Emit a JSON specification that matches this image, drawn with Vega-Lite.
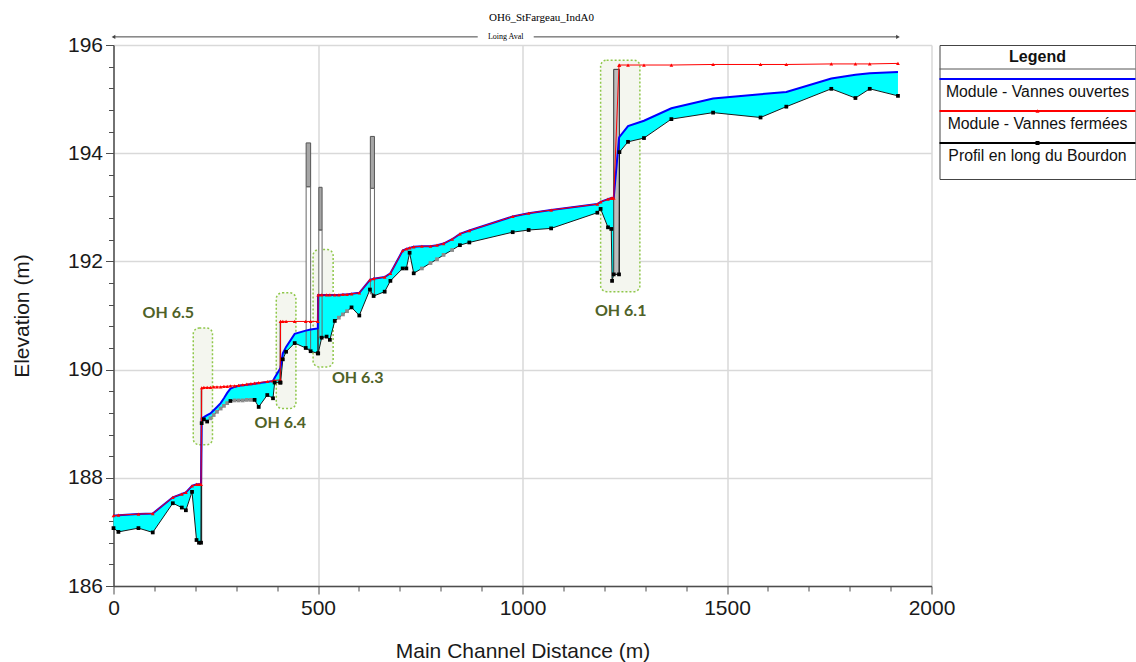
{
  "$schema": "https://vega.github.io/schema/vega-lite/v6.json",
  "padding": {"left": 11.5, "top": 12, "right": 0, "bottom": 0},
  "bounds": "flush",
  "spacing": 8,
  "background": "white",
  "config": {
    "font": "Liberation Sans",
    "axis": {"labelFont": "Liberation Sans", "labelFontSize": 21, "labelColor": "#1a1a1a", "titleFont": "Liberation Sans", "titleFontSize": 21, "titleFontWeight": "normal", "titleColor": "#1a1a1a", "domainColor": "#4d4d4d", "domainWidth": 1.5, "tickColor": "#4d4d4d", "tickWidth": 1, "gridColor": "#d9d9d9", "gridWidth": 1.5, "labelPadding": 3, "labelOverlap": false},
    "axisX": {"titlePadding": 22.5},
    "axisY": {"titlePadding": 34.5},
    "view": {"stroke": null}
  },
  "datasets": {
    "sections": [
      {"d": 0, "bed": 187.07, "o": 187.30, "c": 187.30, "t": "x"},
      {"d": 12, "bed": 187.00, "o": 187.31, "c": 187.31, "t": "x"},
      {"d": 61, "bed": 187.07, "o": 187.33, "c": 187.33, "t": "x"},
      {"d": 96, "bed": 186.99, "o": 187.34, "c": 187.34, "t": "x"},
      {"d": 145, "bed": 187.53, "o": 187.64, "c": 187.64, "t": "x"},
      {"d": 167, "bed": 187.45, "o": 187.70, "c": 187.70, "t": "x"},
      {"d": 177, "bed": 187.40, "o": 187.73, "c": 187.73, "t": "x"},
      {"d": 192, "bed": 187.74, "o": 187.85, "c": 187.85, "t": "x"},
      {"d": 203, "bed": 186.85, "o": 187.88, "c": 187.88, "t": "x"},
      {"d": 209, "bed": 186.80, "o": 187.88, "c": 187.88, "t": "x"},
      {"d": 214, "bed": 186.80, "o": 187.88, "c": 187.88, "t": "x"},
      {"d": 215.6, "bed": 189.01, "o": 189.10, "c": 189.66, "t": "x"},
      {"d": 221, "bed": 189.08, "o": 189.12, "c": 189.67, "t": "x"},
      {"d": 229, "bed": 189.04, "o": 189.16, "c": 189.67, "t": "x"},
      {"d": 237, "bed": 189.10, "o": 189.19, "c": 189.67, "t": "i"},
      {"d": 245, "bed": 189.16, "o": 189.25, "c": 189.68, "t": "i"},
      {"d": 253, "bed": 189.22, "o": 189.31, "c": 189.68, "t": "i"},
      {"d": 262, "bed": 189.28, "o": 189.38, "c": 189.68, "t": "i"},
      {"d": 270, "bed": 189.33, "o": 189.47, "c": 189.69, "t": "i"},
      {"d": 278, "bed": 189.38, "o": 189.57, "c": 189.69, "t": "i"},
      {"d": 286, "bed": 189.42, "o": 189.65, "c": 189.70, "t": "x"},
      {"d": 296, "bed": 189.43, "o": 189.68, "c": 189.70, "t": "i"},
      {"d": 306, "bed": 189.43, "o": 189.70, "c": 189.71, "t": "i"},
      {"d": 316, "bed": 189.43, "o": 189.71, "c": 189.72, "t": "i"},
      {"d": 326, "bed": 189.44, "o": 189.72, "c": 189.73, "t": "i"},
      {"d": 336, "bed": 189.44, "o": 189.73, "c": 189.74, "t": "i"},
      {"d": 345, "bed": 189.44, "o": 189.74, "c": 189.75, "t": "x"},
      {"d": 355, "bed": 189.31, "o": 189.75, "c": 189.76, "t": "x"},
      {"d": 376, "bed": 189.53, "o": 189.77, "c": 189.78, "t": "x"},
      {"d": 390, "bed": 189.47, "o": 189.79, "c": 189.79, "t": "x"},
      {"d": 394, "bed": 189.76, "o": 189.85, "c": 189.80, "t": "x"},
      {"d": 407.5, "bed": 189.76, "o": 190.02, "c": 189.81, "t": "x"},
      {"d": 408.5, "bed": 189.76, "o": 190.04, "c": 190.89, "t": "x"},
      {"d": 414, "bed": 190.19, "o": 190.30, "c": 190.89, "t": "x"},
      {"d": 422, "bed": 190.33, "o": 190.42, "c": 190.89, "t": "x"},
      {"d": 443, "bed": 190.49, "o": 190.66, "c": 190.89, "t": "x"},
      {"d": 470, "bed": 190.40, "o": 190.72, "c": 190.89, "t": "x"},
      {"d": 482, "bed": 190.34, "o": 190.74, "c": 190.89, "t": "x"},
      {"d": 499.5, "bed": 190.30, "o": 190.76, "c": 190.89, "t": "x"},
      {"d": 500.5, "bed": 190.30, "o": 191.38, "c": 191.38, "t": "x"},
      {"d": 509, "bed": 190.59, "o": 191.38, "c": 191.38, "t": "x"},
      {"d": 521, "bed": 190.61, "o": 191.38, "c": 191.38, "t": "x"},
      {"d": 529, "bed": 190.55, "o": 191.38, "c": 191.38, "t": "x"},
      {"d": 541, "bed": 190.90, "o": 191.38, "c": 191.38, "t": "x"},
      {"d": 551, "bed": 190.96, "o": 191.38, "c": 191.38, "t": "i"},
      {"d": 561, "bed": 191.02, "o": 191.39, "c": 191.39, "t": "i"},
      {"d": 571, "bed": 191.08, "o": 191.39, "c": 191.39, "t": "i"},
      {"d": 582, "bed": 191.15, "o": 191.40, "c": 191.40, "t": "x"},
      {"d": 601, "bed": 191.00, "o": 191.42, "c": 191.42, "t": "x"},
      {"d": 627, "bed": 191.48, "o": 191.66, "c": 191.66, "t": "x"},
      {"d": 636, "bed": 191.36, "o": 191.68, "c": 191.68, "t": "x"},
      {"d": 663, "bed": 191.44, "o": 191.71, "c": 191.71, "t": "x"},
      {"d": 677, "bed": 191.64, "o": 191.78, "c": 191.78, "t": "x"},
      {"d": 707, "bed": 191.87, "o": 192.20, "c": 192.20, "t": "x"},
      {"d": 716, "bed": 191.87, "o": 192.23, "c": 192.23, "t": "x"},
      {"d": 724, "bed": 192.16, "o": 192.25, "c": 192.25, "t": "x"},
      {"d": 734, "bed": 191.78, "o": 192.27, "c": 192.27, "t": "x"},
      {"d": 754, "bed": 191.87, "o": 192.28, "c": 192.28, "t": "i"},
      {"d": 775, "bed": 191.97, "o": 192.28, "c": 192.28, "t": "i"},
      {"d": 791, "bed": 192.04, "o": 192.30, "c": 192.30, "t": "i"},
      {"d": 807, "bed": 192.12, "o": 192.33, "c": 192.33, "t": "i"},
      {"d": 828, "bed": 192.21, "o": 192.41, "c": 192.41, "t": "i"},
      {"d": 847, "bed": 192.30, "o": 192.51, "c": 192.51, "t": "x"},
      {"d": 870, "bed": 192.35, "o": 192.57, "c": 192.57, "t": "x"},
      {"d": 976, "bed": 192.54, "o": 192.83, "c": 192.83, "t": "x"},
      {"d": 1015, "bed": 192.58, "o": 192.89, "c": 192.89, "t": "x"},
      {"d": 1070, "bed": 192.61, "o": 192.95, "c": 192.95, "t": "x"},
      {"d": 1183, "bed": 192.90, "o": 193.06, "c": 193.06, "t": "x"},
      {"d": 1191, "bed": 192.97, "o": 193.10, "c": 193.10, "t": "x"},
      {"d": 1209, "bed": 192.63, "o": 193.15, "c": 193.15, "t": "x"},
      {"d": 1217, "bed": 192.60, "o": 193.17, "c": 193.17, "t": "x"},
      {"d": 1219, "bed": 191.64, "o": 193.17, "c": 193.17, "t": "x"},
      {"d": 1223, "bed": 191.76, "o": 193.17, "c": 193.17, "t": "x"},
      {"d": 1236, "bed": 191.76, "o": 194.28, "c": 195.63, "t": "x"},
      {"d": 1237, "bed": 194.02, "o": 194.30, "c": 195.63, "t": "x"},
      {"d": 1258, "bed": 194.21, "o": 194.50, "c": 195.63, "t": "x"},
      {"d": 1297, "bed": 194.28, "o": 194.60, "c": 195.63, "t": "x"},
      {"d": 1364, "bed": 194.63, "o": 194.83, "c": 195.63, "t": "x"},
      {"d": 1466, "bed": 194.75, "o": 195.01, "c": 195.64, "t": "x"},
      {"d": 1582, "bed": 194.66, "o": 195.09, "c": 195.64, "t": "x"},
      {"d": 1645, "bed": 194.86, "o": 195.13, "c": 195.64, "t": "x"},
      {"d": 1755, "bed": 195.19, "o": 195.38, "c": 195.65, "t": "x"},
      {"d": 1814, "bed": 195.02, "o": 195.45, "c": 195.65, "t": "x"},
      {"d": 1849, "bed": 195.19, "o": 195.48, "c": 195.65, "t": "x"},
      {"d": 1918, "bed": 195.06, "o": 195.50, "c": 195.66, "t": "x"}
    ],
    "structures": [
      {"name": "OH 6.5", "d0": 214.4, "d1": 215.6, "lo": 186.80, "hi": 189.62},
      {"name": "OH 6.4", "d0": 407.5, "d1": 408.5, "lo": 189.76, "hi": 190.90},
      {"name": "OH 6.3", "d0": 499.5, "d1": 500.5, "lo": 190.30, "hi": 191.38},
      {"name": "OH 6.1", "d0": 1223, "d1": 1237, "lo": 191.76, "hi": 195.55}
    ],
    "piers": [
      {"d0": 471, "d1": 482, "top": 194.19, "mid": 193.38, "bot": 190.38},
      {"d0": 502, "d1": 510, "top": 193.37, "mid": 192.58, "bot": 190.60},
      {"d0": 628, "d1": 638, "top": 194.31, "mid": 193.35, "bot": 191.40}
    ],
    "boxes": [
      {"name": "OH 6.5", "d0": 195, "d1": 242, "lo": 188.61, "hi": 190.77, "lx": 134, "ly": 191.05},
      {"name": "OH 6.4", "d0": 398, "d1": 446, "lo": 189.28, "hi": 191.42, "lx": 408, "ly": 189.01},
      {"name": "OH 6.3", "d0": 488, "d1": 537, "lo": 190.05, "hi": 192.22, "lx": 597, "ly": 189.84},
      {"name": "OH 6.1", "d0": 1191, "d1": 1287, "lo": 191.44, "hi": 195.72, "lx": 1240, "ly": 191.08}
    ],
    "reach": [{"reach": "Loing Aval", "start": 0, "end": 1918}],
    "legend": [
      {"key": "Legend"},
      {"key": "Module - Vannes ouvertes"},
      {"key": "Module - Vannes fermées"},
      {"key": "Profil en long du Bourdon"}
    ]
  },
  "hconcat": [
    {
      "width": 818,
      "height": 541,
      "title": {"text": "OH6_StFargeau_IndA0", "font": "Liberation Sans Narrow", "fontSize": 11, "fontWeight": "normal", "color": "#000", "anchor": "middle", "frame": "group", "offset": 9.5, "dx": 19},
      "resolve": {"axis": {"x": "independent", "y": "independent"}},
      "layer": [
        {
          "data": {"name": "boxes"},
          "mark": {"type": "rect", "fill": "#f4f6ef", "stroke": "#8fc74a", "strokeWidth": 1.5, "strokeDash": [2, 2], "cornerRadius": 6},
          "encoding": {
            "x": {"field": "d0", "type": "quantitative", "scale": {"domain": [0, 2000], "nice": false, "zero": false}, "title": "Main Channel Distance (m)",
              "axis": {"orient": "bottom", "values": [0, 500, 1000, 1500, 2000], "format": "d", "labelOverlap": false, "labelFlush": false, "grid": true, "tickSize": 8}},
            "x2": {"field": "d1"},
            "y": {"field": "hi", "type": "quantitative", "scale": {"domain": [186, 196], "nice": false, "zero": false}, "title": "Elevation (m)",
              "axis": {"orient": "left", "values": [186, 188, 190, 192, 194, 196], "format": "d", "labelOverlap": false, "labelFlush": false, "grid": true, "tickSize": 8}},
            "y2": {"field": "lo"}
          }
        },
        {
          "data": {"name": "piers"},
          "mark": {"type": "rect", "fill": "white", "strokeWidth": 0},
          "encoding": {
            "x": {"field": "d0", "type": "quantitative", "scale": {"domain": [0, 2000], "nice": false, "zero": false}, "title": null,
              "axis": {"orient": "bottom", "values": [100, 200, 300, 400, 600, 700, 800, 900, 1100, 1200, 1300, 1400, 1600, 1700, 1800, 1900], "labels": false, "grid": false, "domain": false, "tickSize": 5}},
            "x2": {"field": "d1"},
            "y": {"field": "mid", "type": "quantitative", "scale": {"domain": [186, 196], "nice": false, "zero": false}, "title": null,
              "axis": {"orient": "left", "values": [186.4, 186.8, 187.2, 187.6, 188.4, 188.8, 189.2, 189.6, 190.4, 190.8, 191.2, 191.6, 192.4, 192.8, 193.2, 193.6, 194.4, 194.8, 195.2, 195.6], "labels": false, "grid": false, "domain": false, "tickSize": 5}},
            "y2": {"field": "bot"}
          }
        },
        {
          "data": {"name": "sections"},
          "mark": {"type": "area", "color": "#00ffff", "opacity": 1, "interpolate": "linear"},
          "encoding": {
            "x": {"field": "d", "type": "quantitative", "scale": {"domain": [0, 2000], "nice": false, "zero": false}, "axis": null},
            "y": {"field": "o", "type": "quantitative", "scale": {"domain": [186, 196], "nice": false, "zero": false}, "axis": null},
            "y2": {"field": "bed"}
          }
        },
        {
          "data": {"name": "structures"},
          "mark": {"type": "rect", "fill": "#bdbdbd", "stroke": "#333", "strokeWidth": 1},
          "encoding": {
            "x": {"field": "d0", "type": "quantitative", "scale": {"domain": [0, 2000], "nice": false, "zero": false}, "axis": null},
            "x2": {"field": "d1"},
            "y": {"field": "hi", "type": "quantitative", "scale": {"domain": [186, 196], "nice": false, "zero": false}, "axis": null},
            "y2": {"field": "lo"}
          }
        },
        {
          "data": {"name": "piers"},
          "mark": {"type": "rect", "fill": "#a6a6a6", "stroke": "#555", "strokeWidth": 1},
          "encoding": {
            "x": {"field": "d0", "type": "quantitative", "scale": {"domain": [0, 2000], "nice": false, "zero": false}, "axis": null},
            "x2": {"field": "d1"},
            "y": {"field": "top", "type": "quantitative", "scale": {"domain": [186, 196], "nice": false, "zero": false}, "axis": null},
            "y2": {"field": "mid"}
          }
        },
        {
          "data": {"name": "piers"},
          "mark": {"type": "rect", "filled": false, "stroke": "#666", "strokeWidth": 1},
          "encoding": {
            "x": {"field": "d0", "type": "quantitative", "scale": {"domain": [0, 2000], "nice": false, "zero": false}, "axis": null},
            "x2": {"field": "d1"},
            "y": {"field": "mid", "type": "quantitative", "scale": {"domain": [186, 196], "nice": false, "zero": false}, "axis": null},
            "y2": {"field": "bot"}
          }
        },
        {
          "data": {"name": "sections"},
          "mark": {"type": "line", "color": "#1a1a1a", "strokeWidth": 1},
          "encoding": {
            "x": {"field": "d", "type": "quantitative", "scale": {"domain": [0, 2000], "nice": false, "zero": false}, "axis": null},
            "y": {"field": "bed", "type": "quantitative", "scale": {"domain": [186, 196], "nice": false, "zero": false}, "axis": null}
          }
        },
        {
          "data": {"name": "sections"},
          "mark": {"type": "line", "color": "#0000ff", "strokeWidth": 2},
          "encoding": {
            "x": {"field": "d", "type": "quantitative", "scale": {"domain": [0, 2000], "nice": false, "zero": false}, "axis": null},
            "y": {"field": "o", "type": "quantitative", "scale": {"domain": [186, 196], "nice": false, "zero": false}, "axis": null}
          }
        },
        {
          "data": {"name": "sections"},
          "mark": {"type": "line", "color": "#ff0000", "strokeWidth": 1},
          "encoding": {
            "x": {"field": "d", "type": "quantitative", "scale": {"domain": [0, 2000], "nice": false, "zero": false}, "axis": null},
            "y": {"field": "c", "type": "quantitative", "scale": {"domain": [186, 196], "nice": false, "zero": false}, "axis": null}
          }
        },
        {
          "data": {"name": "sections"},
          "mark": {"type": "point", "shape": "triangle-up", "filled": true, "size": 14, "color": "#ff0000", "opacity": 1},
          "encoding": {
            "x": {"field": "d", "type": "quantitative", "scale": {"domain": [0, 2000], "nice": false, "zero": false}, "axis": null},
            "y": {"field": "c", "type": "quantitative", "scale": {"domain": [186, 196], "nice": false, "zero": false}, "axis": null}
          }
        },
        {
          "data": {"name": "sections"},
          "mark": {"type": "point", "shape": "square", "filled": true, "size": 14, "opacity": 1},
          "encoding": {
            "x": {"field": "d", "type": "quantitative", "scale": {"domain": [0, 2000], "nice": false, "zero": false}, "axis": null},
            "y": {"field": "bed", "type": "quantitative", "scale": {"domain": [186, 196], "nice": false, "zero": false}, "axis": null},
            "color": {"condition": {"test": "datum.t === 'i'", "value": "#8c8c8c"}, "value": "#000000"}
          }
        },
        {
          "data": {"name": "boxes"},
          "mark": {"type": "text", "font": "Lato", "fontWeight": "bold", "fontSize": 16, "color": "#4f6228", "align": "center", "baseline": "middle"},
          "encoding": {
            "x": {"field": "lx", "type": "quantitative", "scale": {"domain": [0, 2000], "nice": false, "zero": false}, "axis": null},
            "y": {"field": "ly", "type": "quantitative", "scale": {"domain": [186, 196], "nice": false, "zero": false}, "axis": null},
            "text": {"field": "name"}
          }
        },
        {
          "data": {"name": "reach"},
          "transform": [{"calculate": "(datum.start + datum.end) / 2", "as": "mid"}],
          "layer": [
            {
              "mark": {"type": "rule", "color": "#444", "strokeWidth": 1, "x2Offset": -28},
              "encoding": {
                "x": {"field": "start", "type": "quantitative", "scale": {"domain": [0, 2000], "nice": false, "zero": false}, "axis": null},
                "x2": {"field": "mid"},
                "y": {"datum": 196.15, "type": "quantitative", "scale": {"domain": [186, 196], "nice": false, "zero": false}, "axis": null}
              }
            },
            {
              "mark": {"type": "rule", "color": "#444", "strokeWidth": 1, "xOffset": 28},
              "encoding": {
                "x": {"field": "mid", "type": "quantitative", "scale": {"domain": [0, 2000], "nice": false, "zero": false}, "axis": null},
                "x2": {"field": "end"},
                "y": {"datum": 196.15, "type": "quantitative", "scale": {"domain": [186, 196], "nice": false, "zero": false}, "axis": null}
              }
            },
            {
              "mark": {"type": "point", "shape": "triangle-left", "filled": true, "size": 18, "color": "#444", "opacity": 1},
              "encoding": {
                "x": {"field": "start", "type": "quantitative", "scale": {"domain": [0, 2000], "nice": false, "zero": false}, "axis": null},
                "y": {"datum": 196.15, "type": "quantitative", "scale": {"domain": [186, 196], "nice": false, "zero": false}, "axis": null}
              }
            },
            {
              "mark": {"type": "point", "shape": "triangle-right", "filled": true, "size": 18, "color": "#444", "opacity": 1},
              "encoding": {
                "x": {"field": "end", "type": "quantitative", "scale": {"domain": [0, 2000], "nice": false, "zero": false}, "axis": null},
                "y": {"datum": 196.15, "type": "quantitative", "scale": {"domain": [186, 196], "nice": false, "zero": false}, "axis": null}
              }
            },
            {
              "mark": {"type": "text", "font": "Liberation Sans Narrow", "fontSize": 8, "color": "#000", "baseline": "middle"},
              "encoding": {
                "x": {"field": "mid", "type": "quantitative", "scale": {"domain": [0, 2000], "nice": false, "zero": false}, "axis": null},
                "y": {"datum": 196.15, "type": "quantitative", "scale": {"domain": [186, 196], "nice": false, "zero": false}, "axis": null},
                "text": {"field": "reach"}
              }
            }
          ]
        }
      ]
    },
    {
      "width": 196,
      "height": 134,
      "view": {"stroke": "#444", "strokeWidth": 1, "fill": "white"},
      "data": {"name": "legend"},
      "encoding": {
        "y": {"field": "key", "type": "nominal", "sort": null,
          "scale": {"type": "point", "domain": ["Legend", "Module - Vannes ouvertes", "Module - Vannes fermées", "Profil en long du Bourdon"], "range": [2, 98], "padding": 0},
          "axis": null}
      },
      "layer": [
        {
          "transform": [{"filter": "datum.key === 'Legend'"}],
          "mark": {"type": "text", "font": "Liberation Sans", "fontSize": 16, "fontWeight": "bold", "dy": 10, "color": "#111"},
          "encoding": {"text": {"field": "key"}}
        },
        {
          "transform": [{"filter": "datum.key === 'Legend'"}],
          "mark": {"type": "rule", "color": "#555", "strokeWidth": 1, "yOffset": 22}
        },
        {
          "transform": [{"filter": "datum.key !== 'Legend'"}],
          "mark": {"type": "rule", "strokeWidth": 2},
          "encoding": {
            "color": {"field": "key", "type": "nominal", "scale": {"domain": ["Module - Vannes ouvertes", "Module - Vannes fermées", "Profil en long du Bourdon"], "range": ["#0000ff", "#ff0000", "#000000"]}, "legend": null}
          }
        },
        {
          "transform": [{"filter": "datum.key === 'Module - Vannes fermées' || datum.key === 'Profil en long du Bourdon'"}],
          "mark": {"type": "point", "filled": true, "size": 16, "opacity": 1},
          "encoding": {
            "color": {"field": "key", "type": "nominal", "scale": {"domain": ["Module - Vannes ouvertes", "Module - Vannes fermées", "Profil en long du Bourdon"], "range": ["#0000ff", "#ff0000", "#000000"]}, "legend": null},
            "shape": {"field": "key", "type": "nominal", "scale": {"domain": ["Module - Vannes fermées", "Profil en long du Bourdon"], "range": ["triangle-up", "square"]}, "legend": null}
          }
        },
        {
          "transform": [{"filter": "datum.key !== 'Legend'"}],
          "mark": {"type": "text", "font": "Liberation Sans", "fontSize": 15.8, "dy": 13, "color": "#111"},
          "encoding": {"text": {"field": "key"}}
        }
      ]
    }
  ]
}
